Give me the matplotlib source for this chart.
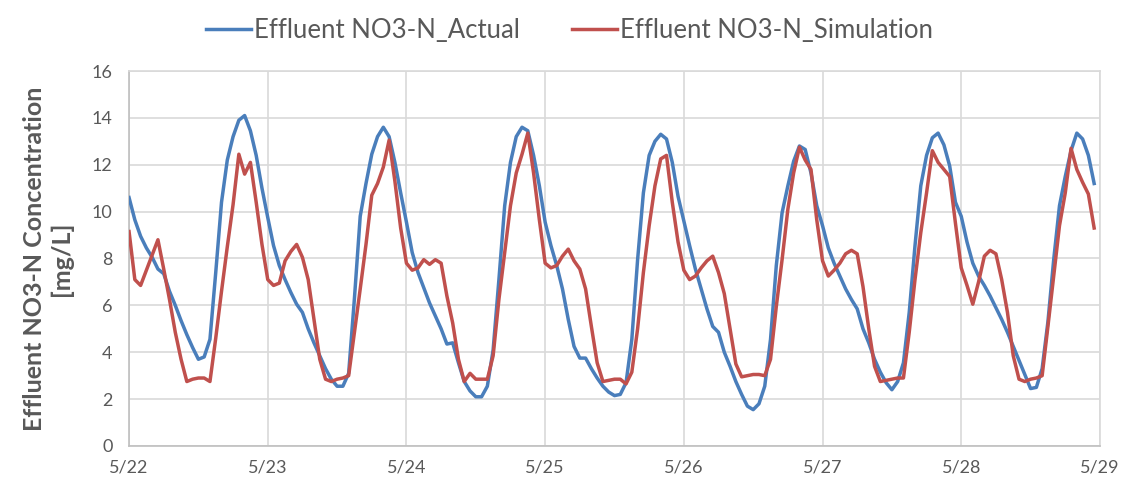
import numpy as np
import matplotlib
matplotlib.use("Agg")
import matplotlib.pyplot as plt

# Hourly effluent NO3-N concentration (mg/L), 5/22 00:00 through 5/28 23:00
actual = [
    # 5/22
    10.6, 9.65, 8.95, 8.45, 8.05, 7.55, 7.35, 6.6, 6.0, 5.35, 4.75, 4.2,
    3.7, 3.8, 4.55, 7.4, 10.4, 12.2, 13.2, 13.9, 14.1, 13.45, 12.4, 11.0,
    # 5/23
    9.75, 8.55, 7.7, 7.1, 6.55, 6.05, 5.7, 5.0, 4.4, 3.85, 3.3, 2.85,
    2.55, 2.55, 3.1, 6.3, 9.8, 11.2, 12.45, 13.2, 13.6, 13.2, 12.1, 10.8,
    # 5/24
    9.55, 8.25, 7.4, 6.75, 6.1, 5.55, 5.0, 4.35, 4.4, 3.55, 2.75, 2.35,
    2.1, 2.1, 2.55, 4.1, 7.1, 10.25, 12.1, 13.2, 13.6, 13.45, 12.4, 11.1,
    # 5/25
    9.55, 8.55, 7.7, 6.7, 5.4, 4.25, 3.75, 3.75, 3.3, 2.9, 2.55, 2.3,
    2.15, 2.2, 2.7, 4.55, 7.95, 10.8, 12.4, 13.0, 13.3, 13.1, 12.1, 10.65,
    # 5/26
    9.6, 8.55, 7.55, 6.7, 5.85, 5.1, 4.85, 4.0, 3.4, 2.75, 2.2, 1.7,
    1.55, 1.8, 2.55, 4.55, 7.7, 9.95, 11.1, 12.15, 12.8, 12.65, 11.65, 10.25,
    # 5/27
    9.4, 8.45, 7.8, 7.25, 6.7, 6.25, 5.85, 5.0, 4.4, 3.7, 3.15, 2.7,
    2.4, 2.75, 3.55, 5.7, 8.55, 11.1, 12.4, 13.15, 13.35, 12.85, 11.95, 10.4,
    # 5/28
    9.8, 8.7, 7.8, 7.25, 6.85, 6.4, 5.9, 5.4, 4.85, 4.25, 3.65, 3.05,
    2.45, 2.5, 3.3, 5.3, 7.95, 10.25, 11.5, 12.6, 13.35, 13.1, 12.4, 11.2,
]

simulation = [
    # 5/22
    9.15, 7.1, 6.85, 7.5, 8.15, 8.8, 7.55, 6.25, 4.85, 3.7, 2.75, 2.85,
    2.9, 2.9, 2.75, 4.6, 6.6, 8.5, 10.3, 12.45, 11.6, 12.1, 10.4, 8.6,
    # 5/23
    7.1, 6.85, 6.95, 7.9, 8.3, 8.6, 8.05, 7.1, 5.4, 3.7, 2.85, 2.75,
    2.85, 2.9, 3.0, 4.85, 6.7, 8.6, 10.7, 11.2, 11.9, 13.05, 11.3, 9.3,
    # 5/24
    7.8, 7.5, 7.6, 7.95, 7.75, 7.95, 7.8, 6.4, 5.25, 3.7, 2.75, 3.1,
    2.85, 2.85, 2.85, 3.85, 6.25, 8.25, 10.25, 11.65, 12.45, 13.35, 11.65, 9.65,
    # 5/25
    7.8, 7.6, 7.7, 8.1, 8.4, 7.9, 7.55, 6.7, 5.1, 3.55, 2.75, 2.8,
    2.85, 2.85, 2.65, 3.15, 5.0, 7.4, 9.4, 11.1, 12.25, 12.4, 10.4, 8.7,
    # 5/26
    7.5, 7.1, 7.25, 7.6, 7.9, 8.1, 7.4, 6.5, 5.0, 3.5, 2.95, 3.0,
    3.05, 3.05, 3.0, 3.7, 5.95, 7.95, 10.1, 11.65, 12.75, 12.2, 11.8, 9.65,
    # 5/27
    7.9, 7.25, 7.5, 7.8, 8.2, 8.35, 8.2, 6.8, 5.0, 3.4, 2.75, 2.8,
    2.85, 2.9, 2.9, 4.85, 7.1, 9.1, 10.8, 12.6, 12.1, 11.8, 11.5, 9.5,
    # 5/28
    7.6, 6.85, 6.05, 7.0, 8.1, 8.35, 8.2, 7.1, 5.7, 3.85, 2.85, 2.75,
    2.85, 2.9, 3.0, 5.1, 7.25, 9.4, 10.8, 12.7, 11.8, 11.25, 10.75, 9.3,
]

day_labels = ["5/22", "5/23", "5/24", "5/25", "5/26", "5/27", "5/28", "5/29"]
series_names = ["Effluent NO3-N_Actual", "Effluent NO3-N_Simulation"]
y_ticks = [0, 2, 4, 6, 8, 10, 12, 14, 16]

plt.rcParams["font.family"] = ["Lato", "DejaVu Sans"]

BLUE = "#4a7ebb"
RED = "#c0504d"
GRID = "#d9d9d9"
TEXT = "#595959"

t_days = np.arange(len(actual)) / 24.0

fig = plt.figure(figsize=(11.39, 4.88), dpi=100)
ax = fig.add_axes([0.1133, 0.0861, 0.8524, 0.7684])

ax.plot(t_days, actual, color=BLUE, lw=2.5, label=series_names[0],
        solid_joinstyle="round", zorder=3)
ax.plot(t_days, simulation, color=RED, lw=2.5, label=series_names[1],
        solid_joinstyle="round", zorder=4)

ax.set_xlim(0, len(day_labels) - 1)
ax.set_ylim(y_ticks[0], y_ticks[-1])
ax.set_xticks(np.arange(len(day_labels)))
ax.set_xticklabels(day_labels)
ax.set_yticks(y_ticks)

ax.grid(True, color=GRID, lw=1.2, zorder=0)
for s in ax.spines.values():
    s.set_color(GRID)
    s.set_linewidth(1.2)
ax.spines["bottom"].set_color("#bfbfbf")
ax.spines["left"].set_color("#bfbfbf")
ax.tick_params(length=0, labelsize=13, colors=TEXT, pad=12)
ax.tick_params(axis="x", pad=10)

ax.set_ylabel("Effluent NO3-N Concentration\n[mg/L]", fontsize=18,
              fontweight="bold", color=TEXT, labelpad=13, linespacing=1.2)

fig.legend(loc="upper center", bbox_to_anchor=(0.5, 1.01), ncol=2,
           frameon=False, fontsize=18.5, handlelength=1.75, handletextpad=0.15,
           columnspacing=2.0, labelcolor=TEXT)

fig.savefig("out.png", dpi=100, facecolor="white")
